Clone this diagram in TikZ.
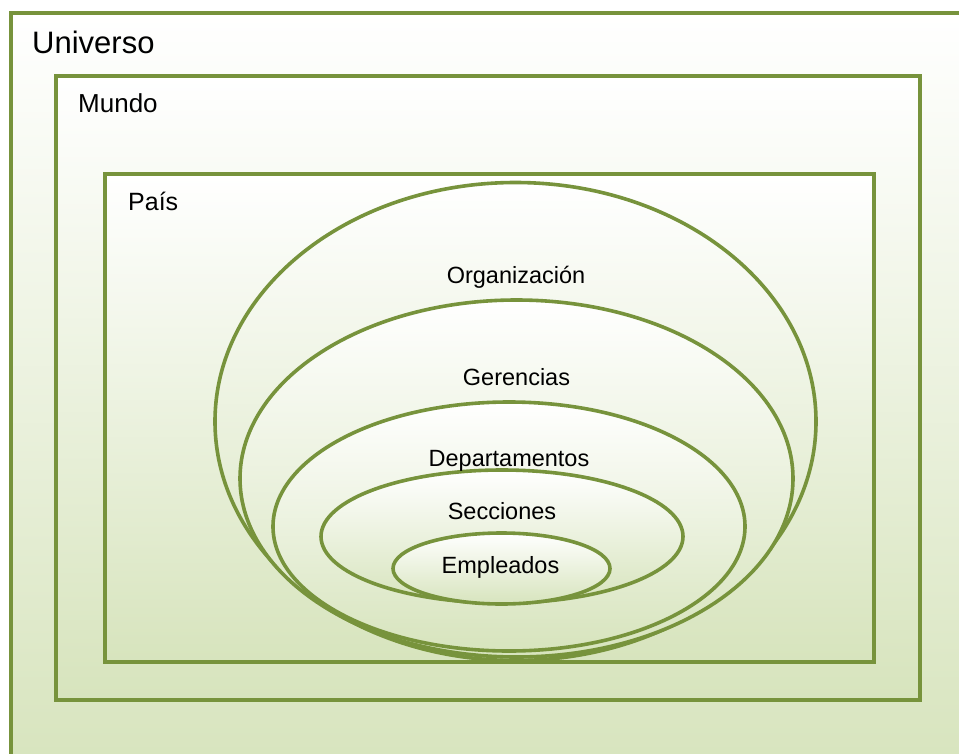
\documentclass[tikz,border=0pt]{standalone}
\usepackage{fontspec}
\setmainfont{Liberation Sans}
\definecolor{olivedark}{HTML}{77933C}
\definecolor{olivelight}{HTML}{D7E4BD}
\tikzset{
  shp/.style={draw=olivedark, line width=3.6pt, top color=white, bottom color=olivelight},
  lbl/.style={inner sep=0pt, font=\fontsize{23.5}{28}\selectfont},
}
\begin{document}
\begin{tikzpicture}[x=1pt,y=-1pt]
\clip (0,0) rectangle (959,753);
\useasboundingbox (0,0) rectangle (959,753);
% boxes
\path[shp] (11,13) rectangle (1000,775);
\path[shp] (56,76) rectangle (920,700);
\path[shp] (105,174) rectangle (874,662);
% ellipses
\path[shp] (515.5,421.5) ellipse [x radius=300.5, y radius=239];
\path[shp] (516.5,478.5) ellipse [x radius=276.5, y radius=178.5];
\path[shp] (509,526.5) ellipse [x radius=236, y radius=124.5];
\path[shp] (502,536.5) ellipse [x radius=181, y radius=66.5];
\path[shp] (501.5,568.5) ellipse [x radius=108.5, y radius=35.5];
% labels
\node[lbl, anchor=base west, font=\fontsize{31}{36}\selectfont] (universo) at (32,53) {Universo};
\node[lbl, anchor=base west, font=\fontsize{26}{30}\selectfont] (mundo) at (78,112) {Mundo};
\node[lbl, anchor=base west, font=\fontsize{25}{30}\selectfont] (pais) at (128,210) {País};
\node[lbl, anchor=base] (org) at (516,283) {Organización};
\node[lbl, anchor=base] (ger) at (516.5,385) {Gerencias};
\node[lbl, anchor=base] (dep) at (509,466) {Departamentos};
\node[lbl, anchor=base] (sec) at (502,519) {Secciones};
\node[lbl, anchor=base] (emp) at (500.5,573) {Empleados};
\end{tikzpicture}
\end{document}
